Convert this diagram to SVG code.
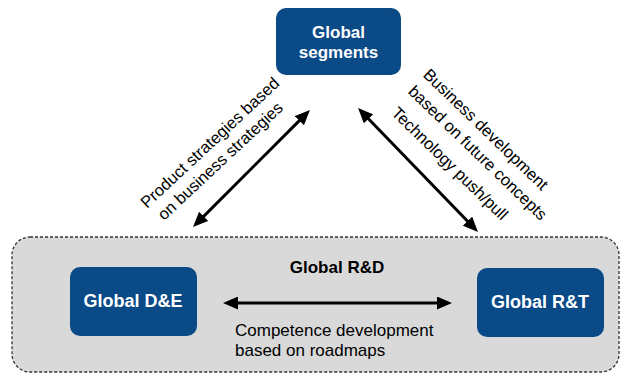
<svg xmlns="http://www.w3.org/2000/svg" width="621" height="374" viewBox="0 0 621 374">
<style>
.node{fill:#0a4a87;}
.nt{font-family:"Liberation Sans",Arial,sans-serif;font-size:17px;font-weight:bold;fill:#ffffff;text-anchor:middle;}
.nt18{font-size:18px;}
.lbl{font-family:"Liberation Sans",Arial,sans-serif;font-size:16.5px;fill:#000000;}
.grp{fill:#d9d9d9;stroke:#333333;stroke-width:1.3;stroke-dasharray:3 2;}
.ttl{font-family:"Liberation Sans",Arial,sans-serif;font-size:17px;font-weight:bold;fill:#000000;text-anchor:middle;}
.conn{stroke:#000000;stroke-width:3;fill:none;marker-start:url(#ah);marker-end:url(#ah);}
</style>
<defs>
<marker id="ah" markerUnits="userSpaceOnUse" markerWidth="15" markerHeight="13" refX="6" refY="6.5" orient="auto-start-reverse">
<path d="M0,0 L15,6.5 L0,13 z" fill="#000000"/>
</marker>
</defs>
<g id="global-rd">
<rect class="grp" x="12" y="237" width="607" height="135" rx="18"/>
<text class="ttl" x="337" y="273">Global R&amp;D</text>
</g>
<g id="global-segments">
<rect class="node" x="276" y="8" width="125" height="67" rx="10"/>
<text class="nt" x="338.5" y="38">Global</text>
<text class="nt" x="338.5" y="58">segments</text>
</g>
<g id="global-de">
<rect class="node" x="70" y="267" width="127" height="69" rx="10"/>
<text class="nt nt18" x="133" y="307">Global D&amp;E</text>
</g>
<g id="global-rt">
<rect class="node" x="477" y="268" width="127" height="69" rx="10"/>
<text class="nt nt18" x="540" y="308">Global R&amp;T</text>
</g>
<g id="connectors">
<line class="conn" x1="232" y1="303" x2="443" y2="303"/>
<line class="conn" x1="199.4" y1="220.6" x2="303.6" y2="116.4"/>
<line class="conn" x1="364.3" y1="114.5" x2="471.7" y2="225.5"/>
<text class="lbl" transform="translate(147,209) rotate(-43)">Product strategies based</text>
<text class="lbl" transform="translate(164,221) rotate(-43)">on business strategies</text>
<text class="lbl" transform="translate(422.2,75.8) rotate(44)">Business development</text>
<text class="lbl" transform="translate(407.2,92.5) rotate(44)">based on future concepts</text>
<text class="lbl" transform="translate(390.5,114.1) rotate(44)">Technology push/pull</text>
<text class="lbl" x="235" y="336" style="font-size:17px">Competence development</text>
<text class="lbl" x="235" y="356" style="font-size:17px">based on roadmaps</text>
</g>
</svg>
